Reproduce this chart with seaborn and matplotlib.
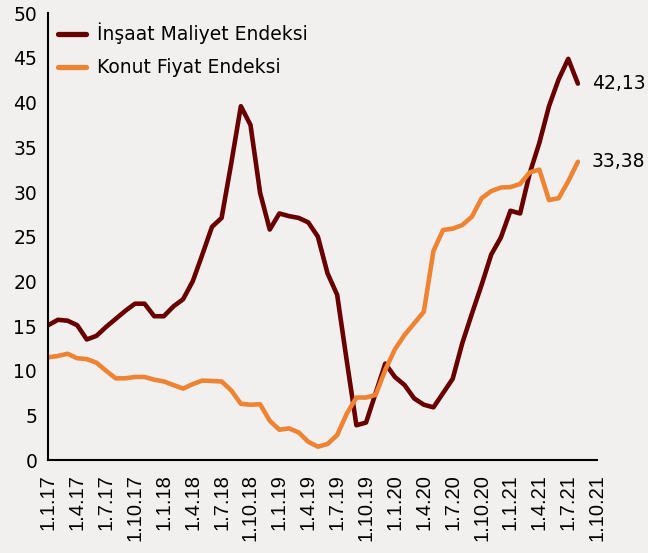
import numpy as np
import pandas as pd
import matplotlib
matplotlib.use("Agg")
import matplotlib.pyplot as plt
import seaborn as sns

# monthly yoy change (%), Jan 2017 - Aug 2021
months = pd.date_range("2017-01-01", "2021-08-01", freq="MS")

insaat = [15.1, 15.7, 15.6, 15.1, 13.5, 13.9, 14.9, 15.8, 16.7, 17.5, 17.5, 16.1,
          16.1, 17.2, 18.0, 20.0, 23.0, 26.1, 27.1, 33.2, 39.6, 37.5, 29.9, 25.8,
          27.6, 27.3, 27.1, 26.6, 25.0, 20.9, 18.5, 11.1, 3.9, 4.2, 7.5, 10.8,
          9.3, 8.4, 6.9, 6.2, 5.9, 7.5, 9.1, 13.1, 16.4, 19.6, 23.0, 24.9,
          27.9, 27.6, 32.1, 35.5, 39.6, 42.6, 44.9, 42.13]

konut = [11.5, 11.65, 11.9, 11.4, 11.3, 10.9, 10.0, 9.15, 9.15, 9.3, 9.3, 9.0,
         8.8, 8.4, 8.0, 8.5, 8.9, 8.85, 8.8, 7.8, 6.3, 6.2, 6.25, 4.4,
         3.4, 3.55, 3.1, 2.05, 1.5, 1.8, 2.8, 5.2, 7.0, 7.0, 7.3, 10.1,
         12.4, 14.0, 15.3, 16.6, 23.4, 25.75, 25.9, 26.3, 27.25, 29.3, 30.1, 30.5,
         30.55, 30.9, 32.2, 32.5, 29.1, 29.3, 31.2, 33.38]

series_names = ["İnşaat Maliyet Endeksi", "Konut Fiyat Endeksi"]
colors = ["#680000", "#EE8433"]

tick_dates = pd.date_range("2017-01-01", "2021-10-01", freq="QS")
tick_labels = [f"{d.day}.{d.month}.{d.strftime('%y')}" for d in tick_dates]

bg = "#F2F0EF"

df = pd.DataFrame({
    "t": np.tile(np.arange(len(months)), 2),
    "value": insaat + konut,
    "series": [series_names[0]] * len(insaat) + [series_names[1]] * len(konut),
})

sns.set_style("white")
plt.rcParams["font.family"] = ["DejaVu Sans"]
plt.rcParams["text.color"] = "black"
plt.rcParams["xtick.color"] = "black"
plt.rcParams["ytick.color"] = "black"

fig = plt.figure(figsize=(6.48, 5.53), dpi=100, facecolor=bg)
ax = fig.add_axes([0.0745, 0.168, 0.847, 0.808])
ax.set_facecolor(bg)

sns.lineplot(data=df, x="t", y="value", hue="series", palette=colors,
             linewidth=3.3, ax=ax)

# tick positions in month index units
tick_pos = [(d.year - 2017) * 12 + d.month - 1 for d in tick_dates]
ax.set_xticks(tick_pos)
ax.set_xticklabels(tick_labels, rotation=90, fontsize=14.5, family="Liberation Sans")
ax.set_xlim(0, tick_pos[-1])
ax.set_ylim(0, 50)
ax.set_yticks(range(0, 51, 5))
ax.tick_params(axis="y", labelsize=13.5, length=5, width=1.5, direction="out", pad=3,
               colors="black")
ax.tick_params(axis="x", length=5, width=1.5, direction="out", pad=5, colors="black")
ax.set_xlabel("")
ax.set_ylabel("")

for s in ["top", "right"]:
    ax.spines[s].set_visible(False)
for s in ["left", "bottom"]:
    ax.spines[s].set_color("black")
    ax.spines[s].set_linewidth(1.5)

# end-of-series labels
last = len(months) - 1
for vals in (insaat, konut):
    ax.annotate(f"{vals[-1]:.2f}".replace(".", ","), xy=(last, vals[-1]),
                xytext=(10, 0), textcoords="offset points", va="center",
                fontsize=13.5, color="black", annotation_clip=False)

leg = ax.legend(loc="upper left", frameon=False, fontsize=13.5, handlelength=1.5,
                handletextpad=0.6, labelspacing=0.75, borderaxespad=0.1,
                bbox_to_anchor=(0.0, 1.0))
for txt in leg.get_texts():
    txt.set_color("black")
for line in leg.get_lines():
    line.set_linewidth(3.8)
    line.set_solid_capstyle("round")

fig.savefig("out.png", dpi=100, facecolor=bg)
